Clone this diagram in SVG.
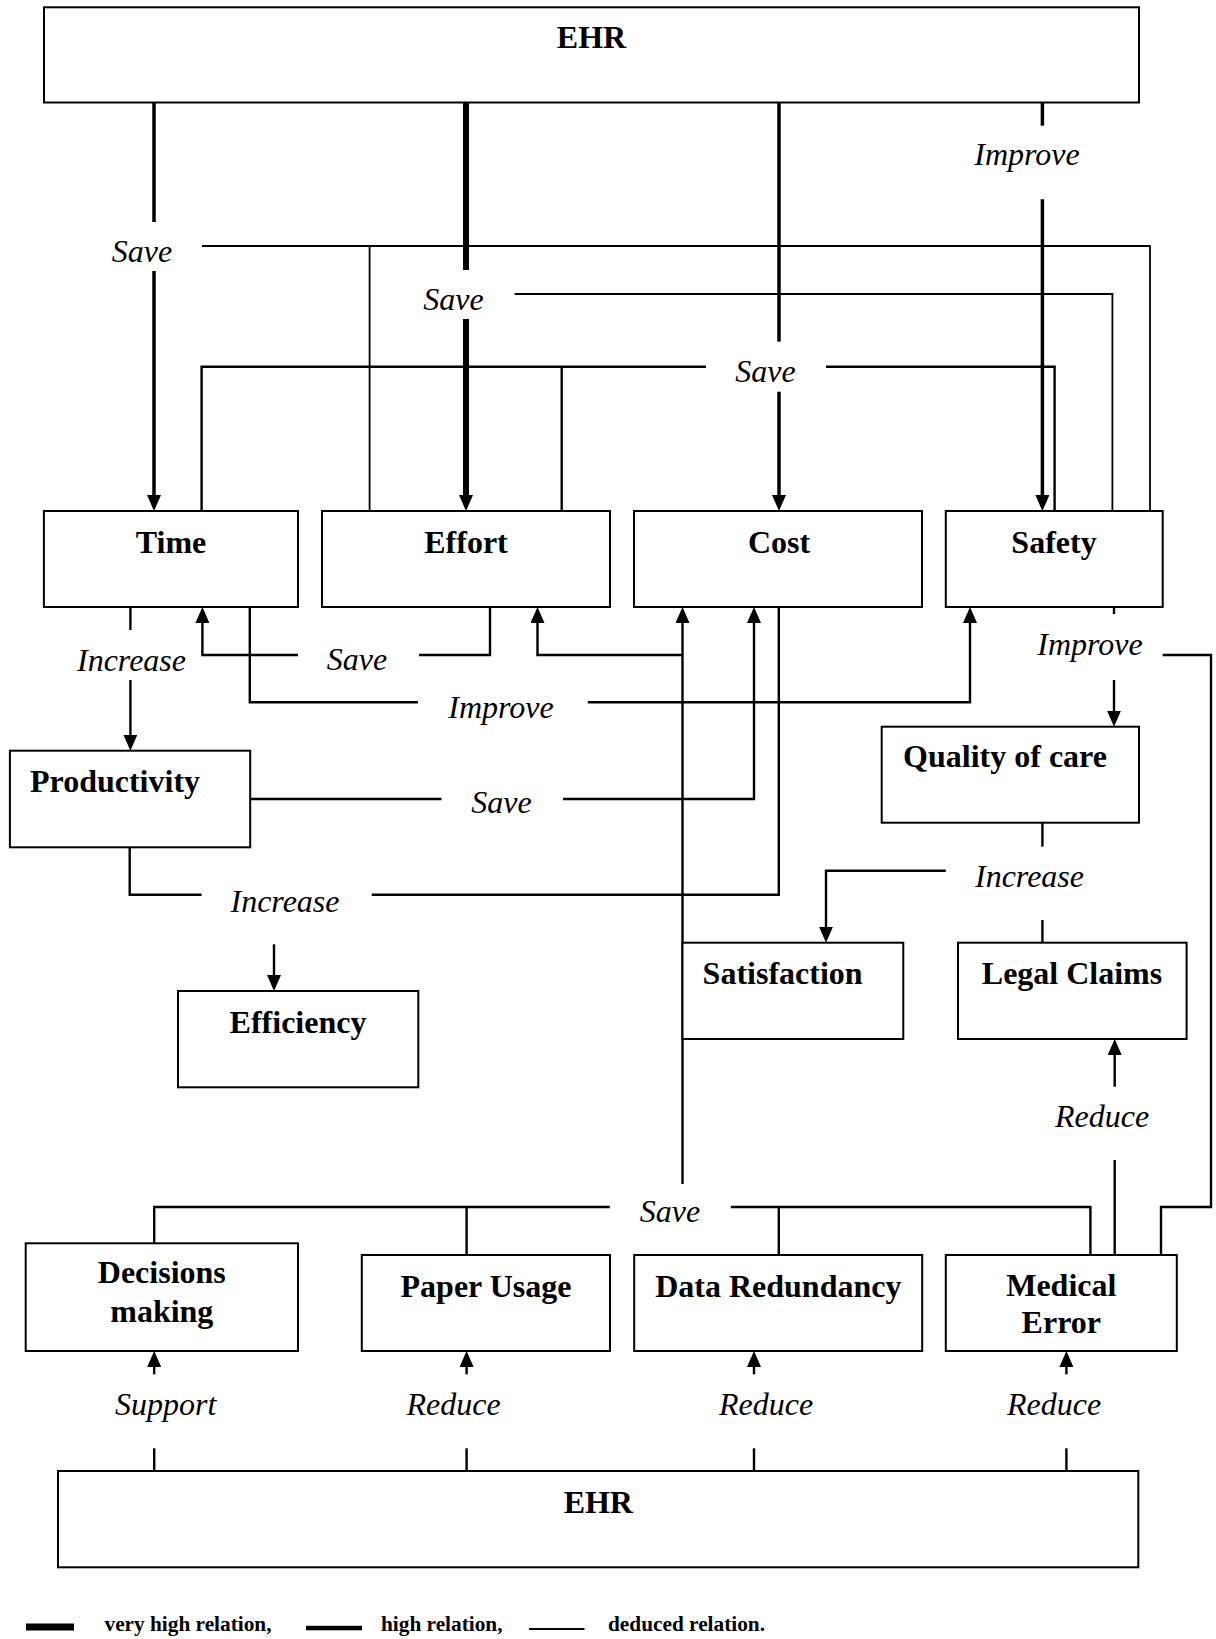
<svg xmlns="http://www.w3.org/2000/svg" width="1216" height="1639" viewBox="0 0 1216 1639">
<style>
.box{fill:#fff;stroke:#000;stroke-width:2}
.nt{font-family:"Liberation Serif","Times New Roman",serif;font-weight:bold;font-size:32px;fill:#000;text-anchor:middle}
.lb{font-family:"Liberation Serif","Times New Roman",serif;font-style:italic;font-size:32px;fill:#000;text-anchor:middle}
.lg{font-family:"Liberation Serif","Times New Roman",serif;font-weight:bold;font-size:21.3px;fill:#000}
.c{fill:none;stroke:#000;stroke-linecap:butt;stroke-linejoin:miter}
.vh{stroke-width:6}
.hi{stroke-width:3.5}
.md{stroke-width:2.4}
.dd{stroke-width:1.8}
</style>
<defs>
<marker id="ah" markerUnits="userSpaceOnUse" markerWidth="16" markerHeight="14" refX="4" refY="7" orient="auto">
<path d="M0,0 L16,7 L0,14 z" fill="#000"/>
</marker>
</defs>
<rect x="0" y="0" width="1216" height="1639" fill="#fff"/>

<g id="connectors">
<path class="c hi" d="M154,102.5 V222"/>
<path class="c hi" d="M154,271 V499" marker-end="url(#ah)"/>
<path class="c vh" d="M466,102.5 V270"/>
<path class="c vh" d="M466,319 V499" marker-end="url(#ah)"/>
<path class="c hi" d="M779,102.5 V341.7"/>
<path class="c hi" d="M779,391.7 V499" marker-end="url(#ah)"/>
<path class="c hi" d="M1042.4,102.5 V125.7"/>
<path class="c hi" d="M1042.4,199.3 V499" marker-end="url(#ah)"/>
<path class="c dd" d="M202,246 H1150 V511"/>
<path class="c dd" d="M369.6,246 V511"/>
<path class="c dd" d="M514.6,294 H1112.4 V511"/>
<path class="c md" d="M201.6,511 V366.7 H706"/>
<path class="c md" d="M826,366.7 H1054.6 V511"/>
<path class="c md" d="M561.7,366.7 V511"/>
<path class="c md" d="M130.4,607 V630"/>
<path class="c md" d="M130.4,680 V738.7" marker-end="url(#ah)"/>
<path class="c md" d="M490,607 V655 H419"/>
<path class="c md" d="M298,655 H202.4 V619" marker-end="url(#ah)"/>
<path class="c md" d="M249.8,607 V702.3 H418"/>
<path class="c md" d="M587.8,702.3 H970 V619" marker-end="url(#ah)"/>
<path class="c md" d="M682.5,1184 V619" marker-end="url(#ah)"/>
<path class="c md" d="M682.5,655 H537.5 V619" marker-end="url(#ah)"/>
<path class="c md" d="M250,799 H441.5"/>
<path class="c md" d="M563,799 H754 V619" marker-end="url(#ah)"/>
<path class="c md" d="M778.8,607 V894.7 H371.7"/>
<path class="c md" d="M201.6,894.7 H129.7 V847.3"/>
<path class="c md" d="M274,944.3 V979" marker-end="url(#ah)"/>
<path class="c md" d="M1114,607 V614"/>
<path class="c md" d="M1114,680 V714.7" marker-end="url(#ah)"/>
<path class="c md" d="M1162.7,655 H1211 V1207 H1161 V1255"/>
<path class="c md" d="M1042.4,822.7 V846.7"/>
<path class="c md" d="M945.8,870.7 H826 V930.7" marker-end="url(#ah)"/>
<path class="c md" d="M1042.4,920 V942.7"/>
<path class="c md" d="M1114.7,1255 V1160"/>
<path class="c md" d="M1114.7,1086.7 V1051" marker-end="url(#ah)"/>
<path class="c md" d="M154.2,1243.3 V1207 H609.8"/>
<path class="c md" d="M730.8,1207 H1090.4 V1255"/>
<path class="c md" d="M466.6,1207 V1255"/>
<path class="c md" d="M778.8,1207 V1255"/>
<path class="c md" d="M154.2,1471 V1448.3"/>
<path class="c md" d="M154.2,1374.3 V1363" marker-end="url(#ah)"/>
<path class="c md" d="M466.6,1471 V1448.3"/>
<path class="c md" d="M466.6,1374.3 V1363" marker-end="url(#ah)"/>
<path class="c md" d="M754,1471 V1448.3"/>
<path class="c md" d="M754,1374.3 V1363" marker-end="url(#ah)"/>
<path class="c md" d="M1066.4,1471 V1448.3"/>
<path class="c md" d="M1066.4,1374.3 V1363" marker-end="url(#ah)"/>
</g>

<g id="labels">
<text class="lb" x="142" y="262">Save</text>
<text class="lb" x="453.5" y="310">Save</text>
<text class="lb" x="765.5" y="381.5">Save</text>
<text class="lb" x="1027" y="165">Improve</text>
<text class="lb" x="131.5" y="670.5">Increase</text>
<text class="lb" x="357" y="670">Save</text>
<text class="lb" x="501" y="718">Improve</text>
<text class="lb" x="501.5" y="813">Save</text>
<text class="lb" x="285" y="911.5">Increase</text>
<text class="lb" x="1090" y="655">Improve</text>
<text class="lb" x="1029.5" y="886.5">Increase</text>
<text class="lb" x="1102" y="1126.5">Reduce</text>
<text class="lb" x="670" y="1221.5">Save</text>
<text class="lb" x="165.7" y="1415">Support</text>
<text class="lb" x="453.6" y="1415">Reduce</text>
<text class="lb" x="766" y="1415">Reduce</text>
<text class="lb" x="1054" y="1415">Reduce</text>
</g>

<g id="ehr-top"><rect class="box" x="44" y="7.3" width="1095" height="95.2"/><text class="nt" x="591.5" y="48">EHR</text></g>
<g id="time"><rect class="box" x="43.9" y="511" width="254.1" height="96"/><text class="nt" x="171" y="553">Time</text></g>
<g id="effort"><rect class="box" x="322" y="511" width="288" height="96"/><text class="nt" x="466" y="553">Effort</text></g>
<g id="cost"><rect class="box" x="634" y="511" width="288" height="96"/><text class="nt" x="779" y="553">Cost</text></g>
<g id="safety"><rect class="box" x="945.8" y="511" width="216.9" height="96"/><text class="nt" x="1054" y="553">Safety</text></g>
<g id="productivity"><rect class="box" x="9.9" y="750.7" width="240.3" height="96.6"/><text class="nt" x="115" y="792">Productivity</text></g>
<g id="quality"><rect class="box" x="881.7" y="726.7" width="257.3" height="96"/><text class="nt" x="1005" y="767">Quality of care</text></g>
<g id="efficiency"><rect class="box" x="178" y="991" width="240.3" height="96.3"/><text class="nt" x="298" y="1033">Efficiency</text></g>
<g id="satisfaction"><rect class="box" x="682.5" y="942.7" width="220.8" height="96.3"/><text class="nt" x="782.6" y="984">Satisfaction</text></g>
<g id="legal"><rect class="box" x="958" y="942.7" width="228.6" height="96.3"/><text class="nt" x="1072" y="984">Legal Claims</text></g>
<g id="decisions"><rect class="box" x="25.7" y="1243.3" width="272.3" height="107.7"/><text class="nt" x="161.8" y="1283.3">Decisions</text><text class="nt" x="161.8" y="1321.5">making</text></g>
<g id="paper"><rect class="box" x="361.8" y="1255" width="248.2" height="96"/><text class="nt" x="486" y="1296.7">Paper Usage</text></g>
<g id="redundancy"><rect class="box" x="634.2" y="1255" width="288" height="96"/><text class="nt" x="778.3" y="1296.7">Data Redundancy</text></g>
<g id="medical"><rect class="box" x="945.8" y="1255" width="231" height="96"/><text class="nt" x="1061.3" y="1296">Medical</text><text class="nt" x="1061.3" y="1332.7">Error</text></g>
<g id="ehr-bottom"><rect class="box" x="58" y="1471" width="1080.3" height="96.3"/><text class="nt" x="598.3" y="1513.3">EHR</text></g>

<g id="legend">
<rect x="26" y="1623.5" width="48" height="7" fill="#000"/>
<text class="lg" x="104.5" y="1630.5">very high relation,</text>
<rect x="306" y="1625.8" width="56" height="4.5" fill="#000"/>
<text class="lg" x="381" y="1630.5">high relation,</text>
<rect x="529" y="1628" width="55.5" height="2" fill="#000"/>
<text class="lg" x="608" y="1630.5">deduced relation.</text>
</g>
</svg>
